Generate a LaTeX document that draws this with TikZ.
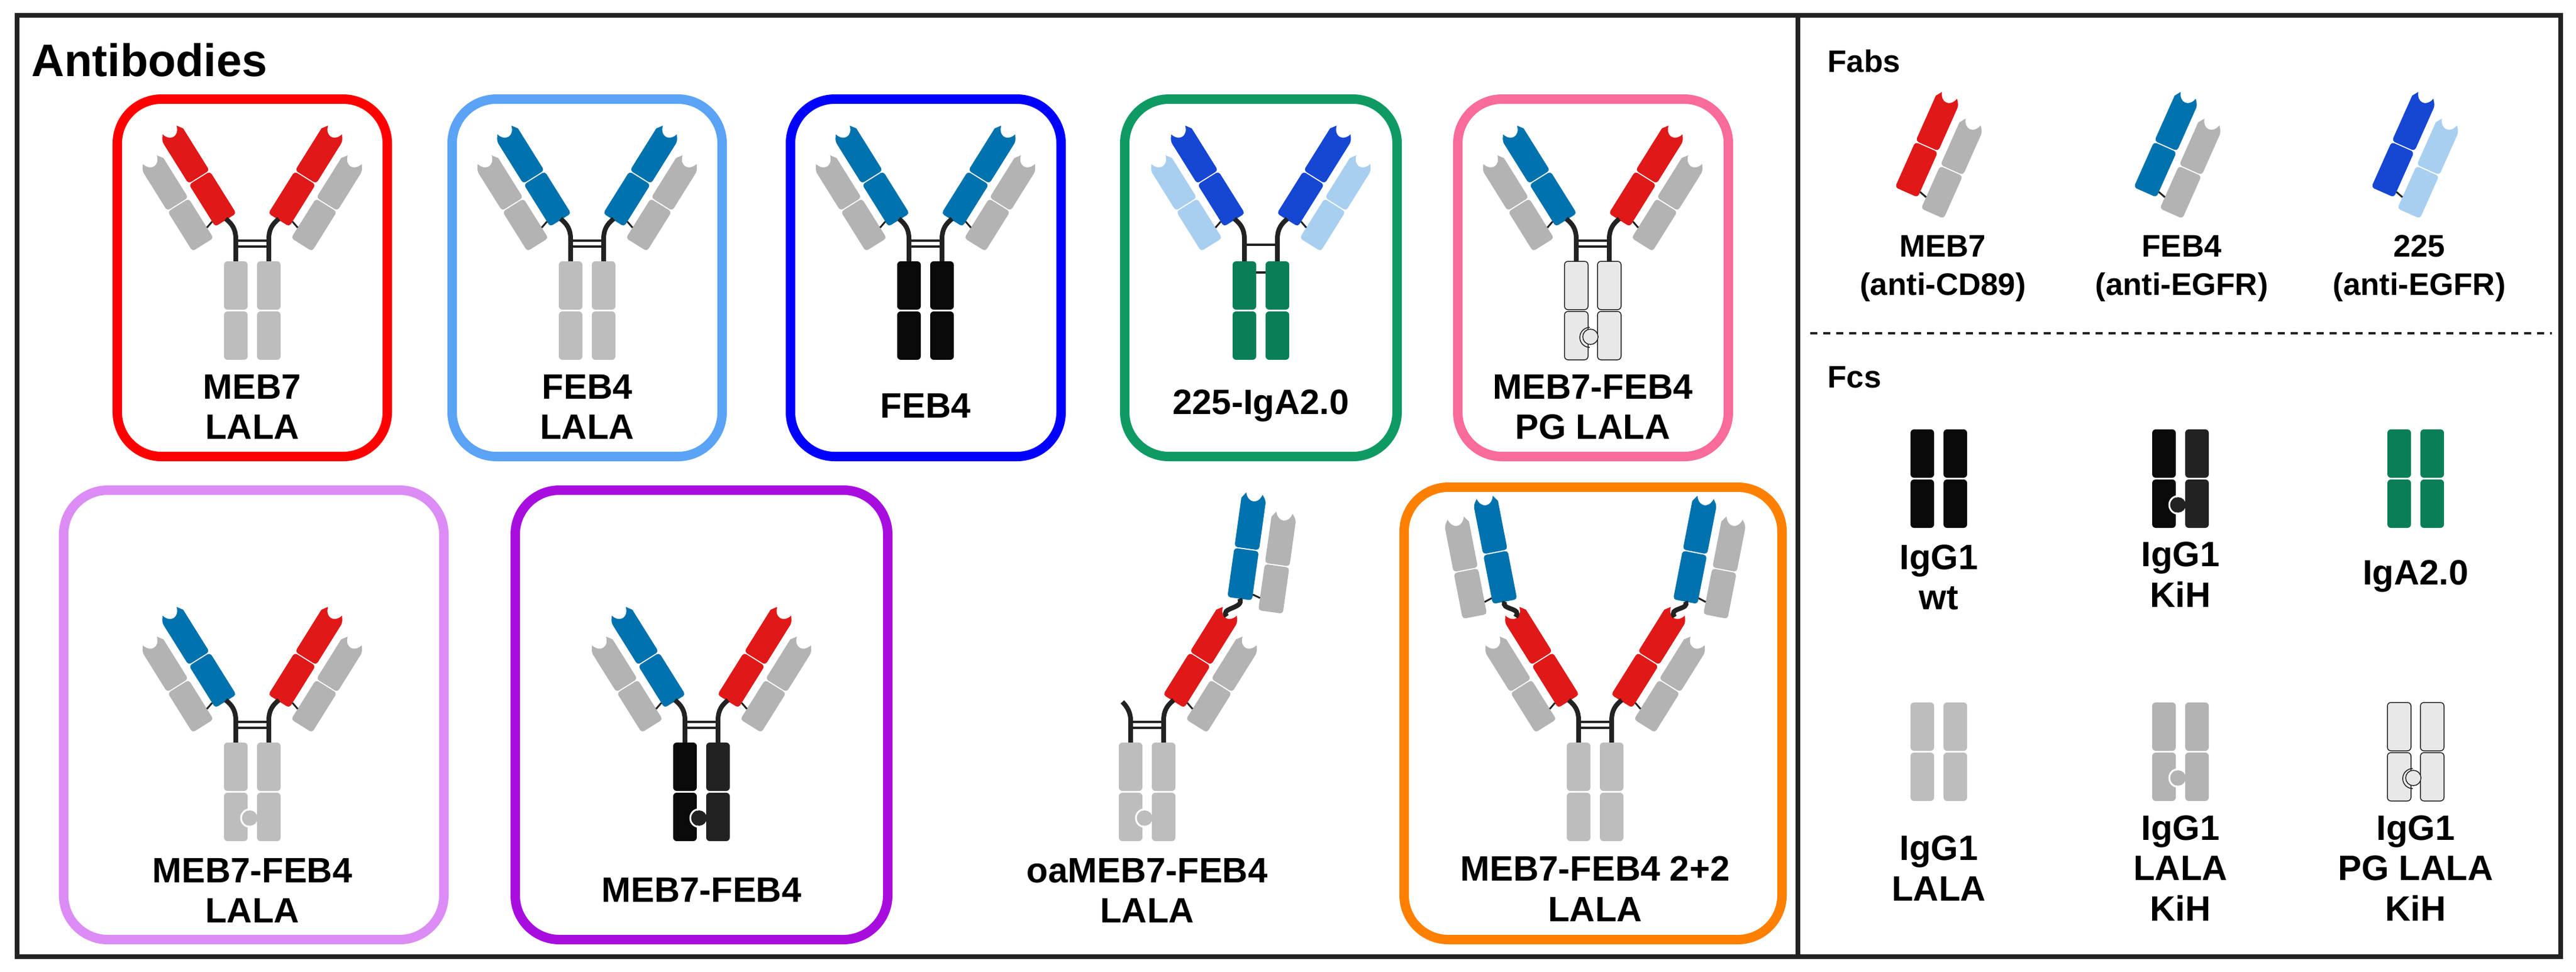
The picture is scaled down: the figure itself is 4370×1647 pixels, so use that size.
\documentclass[tikz,border=0pt]{standalone}
\usepackage{fontspec}
\setmainfont{Liberation Sans}
\usepackage{tikz}

\definecolor{hred}{HTML}{E01818}
\definecolor{hteal}{HTML}{0072AD}
\definecolor{hroyal}{HTML}{1646D4}
\definecolor{lgray}{HTML}{B3B3B3}
\definecolor{lsky}{HTML}{A9CFF0}
\definecolor{fcg}{HTML}{BDBDBD}
\definecolor{fcgreen}{HTML}{0A7F57}
\definecolor{pgfill}{HTML}{E8E8E8}
\definecolor{frameclr}{HTML}{222222}
\definecolor{bxred}{HTML}{FF0000}
\definecolor{bxsky}{HTML}{5BA3F5}
\definecolor{bxblue}{HTML}{0000FF}
\definecolor{bxgreen}{HTML}{0F9A64}
\definecolor{bxpink}{HTML}{F86B9B}
\definecolor{bxlilac}{HTML}{DC8CF5}
\definecolor{bxpurple}{HTML}{A80DE0}
\definecolor{bxorange}{HTML}{FF8000}

\tikzset{
  abbox/.style={rounded corners=0.75cm,line width=0.16cm},
  chain/.style={draw=frameclr,line width=0.08cm},
  bar/.style={draw=frameclr,line width=0.045cm},
  hlink/.style={draw=frameclr,line width=0.03cm},
  lab/.style={align=center,font=\fontsize{17}{19.5}\selectfont\bfseries},
  fablab/.style={align=center,font=\fontsize{15}{18.5}\selectfont\bfseries},
  fcgray/.style={fill=fcg,rounded corners=0.06cm},
  fcblk/.style={fill=black!96,rounded corners=0.06cm},
  fcblk2/.style={fill=frameclr,rounded corners=0.06cm},
  fciga/.style={fill=fcgreen,rounded corners=0.06cm},
  fcpg/.style={fill=pgfill,draw=frameclr,line width=0.015cm,rounded corners=0.06cm},
}

% domains: colour, x1, x2, y1, y2
\newcommand{\botdom}[5]{\fill[#1,rounded corners=0.05cm] (#2,#4) rectangle (#3,#5);}
\newcommand{\topdom}[5]{\fill[#1,rounded corners=0.05cm] (#2,#4) -- (#2,#5) [sharp corners]
  -- ({#2+7},{#5+10}) .. controls ({(#2+#3)/2-9},{#5-8}) and ({(#2+#3)/2+9},{#5-8}) .. ({#3-7},{#5+10})
  -- (#3,#5) [rounded corners=0.05cm] -- (#3,#4) -- cycle;}
% Fab arm: transform, heavy colour, light colour
\newcommand{\fabarm}[3]{%
  \begin{scope}[#1]
    \botdom{#3}{-76}{-34}{-15}{64}
    \topdom{#3}{-76}{-34}{66}{145}
    \botdom{#2}{-21}{21}{0}{84}
    \topdom{#2}{-21}{21}{86}{170}
    \draw[hlink] (-21,10) -- (-34,6);
  \end{scope}}
% two Fab arms on a hinge: cx, ty, left heavy, left light, right heavy, right light
\newcommand{\twoarms}[6]{%
  \fabarm{shift={({#1-45},{-#2+70})},rotate=32}{#3}{#4}
  \fabarm{shift={({#1+45},{-#2+70})},rotate=-32,xscale=-1}{#5}{#6}
  \draw[chain] ({#1-28},{-#2}) -- ({#1-28},{-#2+38}) .. controls ({#1-28},{-#2+55}) and ({#1-35},{-#2+64}) .. ({#1-45},{-#2+72});
  \draw[chain] ({#1+28},{-#2}) -- ({#1+28},{-#2+38}) .. controls ({#1+28},{-#2+55}) and ({#1+35},{-#2+64}) .. ({#1+45},{-#2+72});}
\newcommand{\bars}[2]{%
  \draw[bar] ({#1-28},{-#2+25}) -- ({#1+28},{-#2+25});
  \draw[bar] ({#1-28},{-#2+35}) -- ({#1+28},{-#2+35});}
% Fc: cx, ty, left style, right style
\newcommand{\fcbody}[4]{%
  \path[#3] ({#1-48},{-#2}) rectangle ({#1-8},{-#2-82});
  \path[#3] ({#1-48},{-#2-85}) rectangle ({#1-8},{-#2-167});
  \path[#4] ({#1+8},{-#2}) rectangle ({#1+48},{-#2-82});
  \path[#4] ({#1+8},{-#2-85}) rectangle ({#1+48},{-#2-167});}
\newcommand{\knob}[3]{%
  \fill[#3] ({#1-4},{-#2-128}) circle[radius=0.13cm];
  \draw[white,line width=0.03cm] ({#1-4},{-#2-113}) arc[start angle=90,end angle=270,radius=0.15cm];}

\begin{document}
\begin{tikzpicture}[x=0.01cm,y=0.01cm]
  \useasboundingbox (0,0) rectangle (4370,-1647);

  % frame
  \draw[frameclr,line width=0.08cm] (29,-26) rectangle (4344,-1622);
  \draw[frameclr,line width=0.08cm] (3050,-26) -- (3050,-1622);
  \draw[frameclr,line width=0.04cm,dash pattern=on 0.12cm off 0.1cm] (3071,-565) -- (4329,-565);

  \node[anchor=base west,font=\fontsize{22}{26}\selectfont\bfseries,inner sep=0] (tAb) at (53,-129) {Antibodies};
  \node[anchor=base west,font=\fontsize{15}{18}\selectfont\bfseries,inner sep=0] (tFab) at (3100,-122) {Fabs};
  \node[anchor=base west,font=\fontsize{15}{18}\selectfont\bfseries,inner sep=0] (tFc) at (3100,-657) {Fcs};

  % boxes
  \draw[abbox,draw=bxred] (199,-168) rectangle (657,-774);
  \draw[abbox,draw=bxsky] (767,-168) rectangle (1225,-774);
  \draw[abbox,draw=bxblue] (1341,-168) rectangle (1800,-774);
  \draw[abbox,draw=bxgreen] (1908,-168) rectangle (2370,-774);
  \draw[abbox,draw=bxpink] (2473,-168) rectangle (2932,-774);
  \draw[abbox,draw=bxlilac] (108,-831) rectangle (753,-1593);
  \draw[abbox,draw=bxpurple] (874,-831) rectangle (1506,-1593);
  \draw[abbox,draw=bxorange] (2382,-826) rectangle (3023,-1593);

  % row 1
  \twoarms{428}{443}{hred}{lgray}{hred}{lgray}
  \bars{428}{443}
  \fcbody{428}{443}{fcgray}{fcgray}
  \node[lab] (abMEB) at (428,-690) {MEB7\\LALA};

  \twoarms{996}{443}{hteal}{lgray}{hteal}{lgray}
  \bars{996}{443}
  \fcbody{996}{443}{fcgray}{fcgray}
  \node[lab] (abFEBL) at (996,-690) {FEB4\\LALA};

  \twoarms{1570}{443}{hteal}{lgray}{hteal}{lgray}
  \bars{1570}{443}
  \fcbody{1570}{443}{fcblk}{fcblk}
  \node[lab] (abFEB) at (1570,-688) {FEB4};

  \twoarms{2139}{443}{hroyal}{lsky}{hroyal}{lsky}
  \draw[bar] (2111,-415) -- (2167,-415);
  \fcbody{2139}{443}{fciga}{fciga}
  \draw[bar] (2131,-462) -- (2147,-462);
  \node[lab] (abIgA) at (2139,-688) {225-IgA2.0};

  \twoarms{2702}{443}{hteal}{lgray}{hred}{lgray}
  \bars{2702}{443}
  \fcbody{2702}{443}{fcpg}{fcpg}
  \draw[fcpg] (2698,-571) circle[radius=0.13cm];
  \draw[frameclr,line width=0.015cm] (2697,-555) arc[start angle=90,end angle=270,radius=0.17cm];
  \node[lab] (abPG) at (2702,-690) {MEB7-FEB4\\PG LALA};

  % row 2
  \twoarms{428}{1259}{hteal}{lgray}{hred}{lgray}
  \bars{428}{1259}
  \fcbody{428}{1259}{fcgray}{fcgray}
  \knob{428}{1259}{fcg}
  \node[lab] (abBsL) at (428,-1510) {MEB7-FEB4\\LALA};

  \twoarms{1190}{1259}{hteal}{lgray}{hred}{lgray}
  \bars{1190}{1259}
  \fcbody{1190}{1259}{fcblk}{fcblk2}
  \knob{1190}{1259}{frameclr}
  \node[lab] (abBs) at (1190,-1509) {MEB7-FEB4};

  % one-armed
  \fabarm{shift={(1991,-1189)},rotate=-32,xscale=-1}{hred}{lgray}
  \fabarm{shift={(2103,-1015)},rotate=-8,xscale=-1}{hteal}{lgray}
  \draw[chain] (1918,-1259) -- (1918,-1221) .. controls (1918,-1208) and (1912,-1198) .. (1904,-1190);
  \draw[chain] (1974,-1259) -- (1974,-1221) .. controls (1974,-1204) and (1981,-1195) .. (1991,-1187);
  \draw[chain] (2081,-1045) .. controls (2068,-1030) and (2112,-1032) .. (2103,-1015);
  \bars{1946}{1259}
  \fcbody{1946}{1259}{fcgray}{fcgray}
  \knob{1946}{1259}{fcg}
  \node[lab] (abOa) at (1946,-1510) {oaMEB7-FEB4\\LALA};

  % 2+2
  \twoarms{2706}{1259}{hred}{lgray}{hred}{lgray}
  \fabarm{shift={(2553,-1020)},rotate=11}{hteal}{lgray}
  \fabarm{shift={(2859,-1020)},rotate=-11,xscale=-1}{hteal}{lgray}
  \draw[chain] (2571,-1046) .. controls (2584,-1030) and (2544,-1034) .. (2553,-1020);
  \draw[chain] (2841,-1046) .. controls (2828,-1030) and (2868,-1034) .. (2859,-1020);
  \bars{2706}{1259}
  \fcbody{2706}{1259}{fcgray}{fcgray}
  \node[lab] (abTwo) at (2706,-1507) {MEB7-FEB4 2+2\\LALA};

  % Fabs
  \fabarm{shift={(3234,-326)},rotate=-24,xscale=-1}{hred}{lgray}
  \fabarm{shift={(3639,-326)},rotate=-24,xscale=-1}{hteal}{lgray}
  \fabarm{shift={(4042,-326)},rotate=-24,xscale=-1}{hroyal}{lsky}
  \node[fablab] (fbMEB) at (3296,-455) {MEB7\\(anti-CD89)};
  \node[fablab] (fbFEB) at (3701,-455) {FEB4\\(anti-EGFR)};
  \node[fablab] (fb225) at (4104,-455) {225\\(anti-EGFR)};

  % Fcs
  \fcbody{3289}{728}{fcblk}{fcblk}
  \fcbody{3699}{728}{fcblk}{fcblk2}
  \knob{3699}{728}{frameclr}
  \fcbody{4098}{728}{fciga}{fciga}
  \fcbody{3289}{1191}{fcgray}{fcgray}
  \fcbody{3699}{1191}{fill=lgray,rounded corners=0.06cm}{fill=lgray,rounded corners=0.06cm}
  \knob{3699}{1191}{lgray}
  \fcbody{4098}{1191}{fcpg}{fcpg}
  \draw[fcpg] (4094,-1319) circle[radius=0.13cm];
  \draw[frameclr,line width=0.015cm] (4093,-1303) arc[start angle=90,end angle=270,radius=0.17cm];
  \node[lab] (fcWt) at (3289,-979) {IgG1\\wt};
  \node[lab] (fcKiH) at (3699,-974) {IgG1\\KiH};
  \node[lab] (fcIgA) at (4098,-977) {IgA2.0};
  \node[lab] (fcLala) at (3289,-1472) {IgG1\\LALA};
  \node[lab] (fcLalaK) at (3699,-1472) {IgG1\\LALA\\KiH};
  \node[lab] (fcPG) at (4098,-1472) {IgG1\\PG LALA\\KiH};
\end{tikzpicture}
\end{document}
